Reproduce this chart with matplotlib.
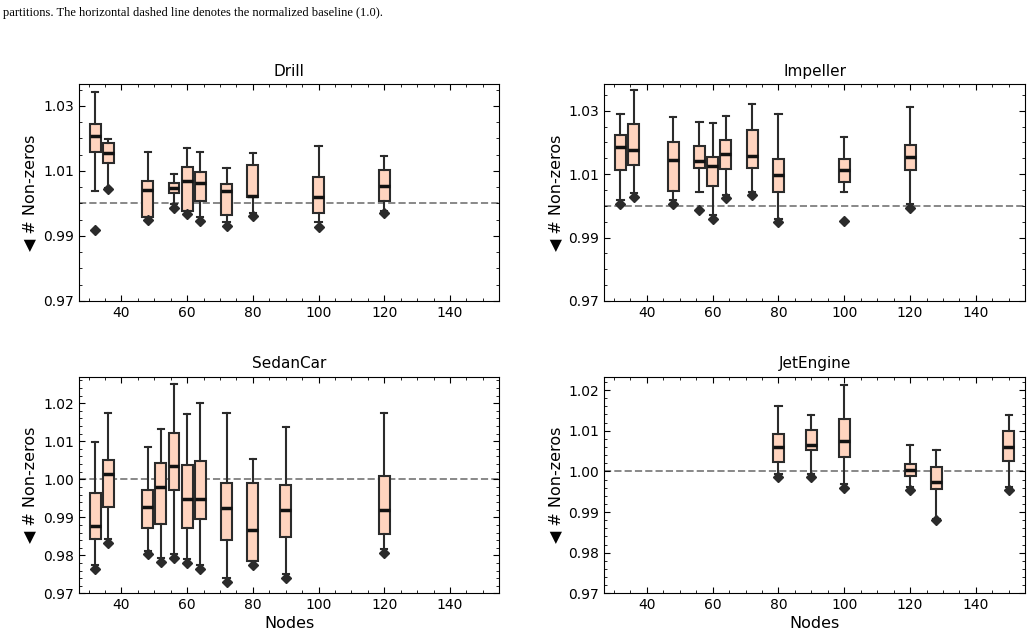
import matplotlib

matplotlib.use("Agg")
import matplotlib.pyplot as plt
from matplotlib.ticker import AutoMinorLocator, MultipleLocator

# values (normalised # non-zeros per node count)
drill_nodes = [32, 36, 48, 56, 60, 64, 72, 80, 100, 120]
drill_whislo = [1.0039, 1.0048, 0.9957, 0.9998, 0.9977, 0.9957, 0.9942, 0.9972, 0.9942, 0.9978]
drill_q1 = [1.0158, 1.0123, 0.9957, 1.0032, 0.9977, 1.0008, 0.9963, 1.0020, 0.9969, 1.0008]
drill_med = [1.0206, 1.0156, 1.0041, 1.0048, 1.0070, 1.0064, 1.0037, 1.0023, 1.0020, 1.0053]
drill_q3 = [1.0244, 1.0187, 1.0070, 1.0063, 1.0112, 1.0095, 1.0060, 1.0117, 1.0082, 1.0104]
drill_whishi = [1.0344, 1.0198, 1.0159, 1.0089, 1.0170, 1.0159, 1.0109, 1.0155, 1.0176, 1.0146]
drill_flier = [0.9919, 1.0043, 0.9949, 0.9987, 0.9966, 0.9945, 0.9930, 0.9961, 0.9927, 0.9969]

impeller_nodes = [32, 36, 48, 56, 60, 64, 72, 80, 100, 120]
impeller_whislo = [1.0018, 1.0039, 1.0018, 1.0043, 0.9971, 1.0034, 1.0044, 0.9960, 1.0043, 1.0005]
impeller_q1 = [1.0113, 1.0128, 1.0047, 1.0119, 1.0064, 1.0116, 1.0119, 1.0042, 1.0074, 1.0113]
impeller_med = [1.0185, 1.0176, 1.0146, 1.0142, 1.0125, 1.0164, 1.0157, 1.0096, 1.0113, 1.0154]
impeller_q3 = [1.0223, 1.0258, 1.0201, 1.0189, 1.0153, 1.0209, 1.0239, 1.0149, 1.0148, 1.0192]
impeller_whishi = [1.0289, 1.0364, 1.0280, 1.0264, 1.0262, 1.0283, 1.0322, 1.0288, 1.0218, 1.0311]
impeller_flier = [1.0007, 1.0028, 1.0007, 0.9988, 0.9958, 1.0025, 1.0034, 0.9949, 0.9952, 0.9994]

sedan_nodes = [32, 36, 48, 52, 56, 60, 64, 72, 80, 90, 120]
sedan_whislo = [0.9774, 0.9842, 0.9812, 0.9792, 0.9804, 0.9789, 0.9774, 0.9739, 0.9785, 0.9751, 0.9816]
sedan_q1 = [0.9844, 0.9927, 0.9873, 0.9882, 0.9973, 0.9871, 0.9896, 0.9840, 0.9785, 0.9848, 0.9856]
sedan_med = [0.9878, 1.0014, 0.9928, 0.9981, 1.0035, 0.9947, 0.9949, 0.9925, 0.9866, 0.9918, 0.9919]
sedan_q3 = [0.9963, 1.0051, 0.9971, 1.0042, 1.0122, 1.0038, 1.0048, 0.9991, 0.9991, 0.9986, 1.0010]
sedan_whishi = [1.0099, 1.0175, 1.0084, 1.0133, 1.0252, 1.0171, 1.0202, 1.0175, 1.0054, 1.0137, 1.0175]
sedan_flier = [0.9764, 0.9832, 0.9803, 0.9782, 0.9794, 0.9780, 0.9764, 0.9730, 0.9775, 0.9741, 0.9806]

jet_nodes = [80, 90, 100, 120, 128, 150]
jet_whislo = [0.9993, 0.9993, 0.9969, 0.9961, 0.9883, 0.9962]
jet_q1 = [1.0024, 1.0052, 1.0036, 0.9989, 0.9957, 1.0025]
jet_med = [1.0061, 1.0066, 1.0075, 1.0004, 0.9974, 1.0059]
jet_q3 = [1.0093, 1.0103, 1.0129, 1.0019, 1.0011, 1.0100]
jet_whishi = [1.0161, 1.0139, 1.0213, 1.0065, 1.0052, 1.0139]
jet_flier = [0.9986, 0.9986, 0.9960, 0.9953, 0.9880, 0.9954]

BOX_FACE = "#ffd4bf"
EDGE = "#2b2b2b"
BASELINE = 1.0
CAPTION = "partitions. The horizontal dashed line denotes the normalized baseline (1.0)."

plt.rcParams.update({
    "font.family": "DejaVu Sans",
    "xtick.direction": "in",
    "ytick.direction": "in",
    "xtick.top": True,
    "ytick.right": True,
    "xtick.major.size": 4,
    "ytick.major.size": 4,
    "xtick.minor.size": 2,
    "ytick.minor.size": 2,
    "xtick.labelsize": 10,
    "ytick.labelsize": 10,
})


def _stats(lo, q1, med, q3, hi, fl):
    return [
        {"whislo": a, "q1": b, "med": c, "q3": d, "whishi": e, "fliers": [f]}
        for a, b, c, d, e, f in zip(lo, q1, med, q3, hi, fl)
    ]


def _draw(ax, title, nodes, stats, ymax, ystep, show_xlabel):
    ax.bxp(
        stats,
        positions=nodes,
        widths=3.3,
        capwidths=1.9,
        patch_artist=True,
        manage_ticks=False,
        boxprops=dict(facecolor=BOX_FACE, edgecolor=EDGE, linewidth=1.5),
        medianprops=dict(color="#111111", linewidth=2.5),
        whiskerprops=dict(color=EDGE, linewidth=1.5),
        capprops=dict(color=EDGE, linewidth=1.5),
        flierprops=dict(marker="D", markerfacecolor=EDGE, markeredgecolor=EDGE, markersize=5),
    )
    ax.axhline(BASELINE, color="#888888", linestyle="--", linewidth=1.4, zorder=0)
    ax.set_xlim(27, 155)
    ax.set_ylim(0.97, ymax)
    ax.xaxis.set_major_locator(MultipleLocator(20))
    ax.xaxis.set_minor_locator(AutoMinorLocator())
    ax.yaxis.set_major_locator(MultipleLocator(ystep, offset=0.97))
    ax.yaxis.set_minor_locator(AutoMinorLocator())
    ax.yaxis.set_major_formatter(lambda v, _: f"{v:.2f}")
    ax.set_title(title, fontsize=11)
    ax.set_ylabel("\u25c0 # Non-zeros", fontsize=11.5)
    if show_xlabel:
        ax.set_xlabel("Nodes", fontsize=11.5, labelpad=3)


fig = plt.figure(figsize=(10.32, 6.39), dpi=100)
fig.text(0.003, 0.980, CAPTION, family="Liberation Serif", fontsize=9, va="center", ha="left")

ax_drill = fig.add_axes([0.0763, 0.5290, 0.4075, 0.3395])
ax_imp = fig.add_axes([0.5853, 0.5290, 0.4082, 0.3395])
ax_sedan = fig.add_axes([0.0763, 0.0715, 0.4075, 0.3390])
ax_jet = fig.add_axes([0.5853, 0.0715, 0.4082, 0.3390])

_draw(ax_drill, "Drill", drill_nodes,
      _stats(drill_whislo, drill_q1, drill_med, drill_q3, drill_whishi, drill_flier),
      1.0367, 0.02, False)
_draw(ax_imp, "Impeller", impeller_nodes,
      _stats(impeller_whislo, impeller_q1, impeller_med, impeller_q3, impeller_whishi, impeller_flier),
      1.0384, 0.02, False)
_draw(ax_sedan, "SedanCar", sedan_nodes,
      _stats(sedan_whislo, sedan_q1, sedan_med, sedan_q3, sedan_whishi, sedan_flier),
      1.0270, 0.01, True)
_draw(ax_jet, "JetEngine", jet_nodes,
      _stats(jet_whislo, jet_q1, jet_med, jet_q3, jet_whishi, jet_flier),
      1.0233, 0.01, True)

fig.savefig("out.png", dpi=100)
plt.close(fig)
